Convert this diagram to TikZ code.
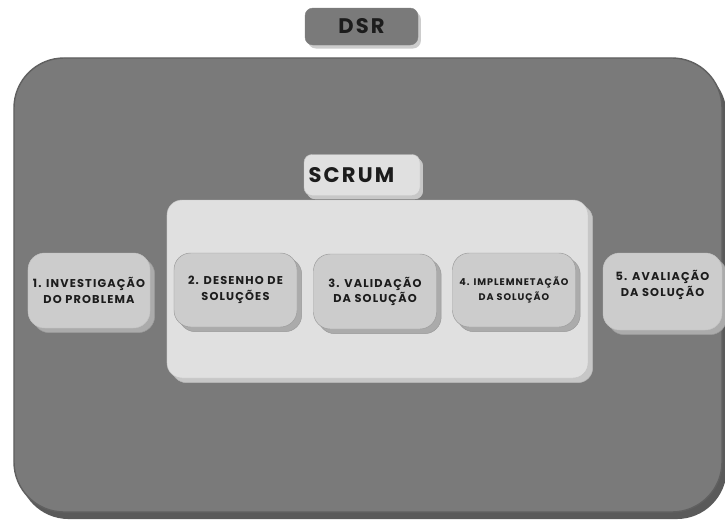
\documentclass[tikz,border=0pt]{standalone}
\usepackage{fontspec}
\newfontfamily\boxfont{Poppins}[LetterSpace=10]
\usepackage{tikz}
\usetikzlibrary{shapes.geometric, shadows}
\definecolor{outerfill}{HTML}{7A7A7A}
\definecolor{outerline}{HTML}{606060}
\definecolor{outershade}{HTML}{5A5A5A}
\definecolor{panelfill}{HTML}{E0E0E0}
\definecolor{panelline}{HTML}{C4C4C4}
\definecolor{stepfill}{HTML}{CCCCCC}
\definecolor{stepline}{HTML}{9A9A9A}
\definecolor{stepshade}{HTML}{ABABAB}
\definecolor{inktext}{HTML}{1C1C1C}
\tikzstyle{outerbox} = [rectangle, rounded corners=1.5cm,
minimum width=21.24cm,
minimum height=13.62cm,
draw=outerline, line width=1.2pt,
fill=outerfill,
drop shadow={shadow xshift=4pt, shadow yshift=-6pt, fill=outershade, opacity=1}]
\tikzstyle{titlebox} = [rectangle, rounded corners=0.24cm,
minimum width=3.39cm,
minimum height=1.11cm,
text centered,
draw=outerline!80, fill=outerfill,
text=inktext,
font={\boxfont\bfseries\fontsize{18}{20}\selectfont},
drop shadow={shadow xshift=2.5pt, shadow yshift=-3pt, fill=black!20, opacity=1}]
\tikzstyle{scrumbox} = [titlebox,
text width=3.2cm, align=left, inner xsep=0.14cm,
minimum height=1.23cm,
draw=panelline, fill=panelfill,
drop shadow={shadow xshift=2.5pt, shadow yshift=-3pt, fill=black!22, opacity=1}]
\tikzstyle{panel} = [rectangle, rounded corners=0.45cm,
minimum width=12.63cm,
minimum height=5.34cm,
draw=panelline, fill=panelfill,
drop shadow={shadow xshift=4pt, shadow yshift=-4pt, fill=black!22, draw=black!28, opacity=1}]
\tikzstyle{stepbox} = [rectangle, rounded corners=0.5cm,
minimum width=3.69cm,
minimum height=2.22cm,
align=center,
draw=stepline, fill=stepfill,
text=inktext,
font={\boxfont\bfseries\fontsize{9.7}{13.5}\selectfont},
drop shadow={shadow xshift=4pt, shadow yshift=-4pt, fill=stepshade, draw=black!40, opacity=1}]

\begin{document}
\begin{tikzpicture}[x=0.03cm, y=-0.03cm]
\useasboundingbox (0,0) rectangle (725,523);

\node (outer) [outerbox] at (368,285) {};
\node (dsr) [titlebox] at (361.5,26.5) {DSR};

\node (panel) [panel] at (377.5,289) {};
\node (scrum) [scrumbox] at (362,175) {SCRUM};

\node (invest) [stepbox, draw=stepline!60, minimum width=3.66cm, minimum height=2.25cm] at (89,290.5) {1. INVESTIGAÇÃO\\DO PROBLEMA};
\node (desenho) [stepbox] at (235.5,290) {2. DESENHO DE\\SOLUÇÕES};
\node (valid) [stepbox, minimum height=2.25cm] at (375,291.5) {3. VALIDAÇÃO\\DA SOLUÇÃO};
\node (implem) [stepbox, font={\boxfont\bfseries\fontsize{8.2}{12}\selectfont}] at (514,290) {4. IMPLEMNETAÇÃO\\DA SOLUÇÃO};
\node (aval) [stepbox, draw=stepline!60, minimum width=3.57cm, minimum height=2.31cm] at (662.5,291.5) {5. AVALIAÇÃO\\DA SOLUÇÃO\\\mbox{}};

\end{tikzpicture}
\end{document}
